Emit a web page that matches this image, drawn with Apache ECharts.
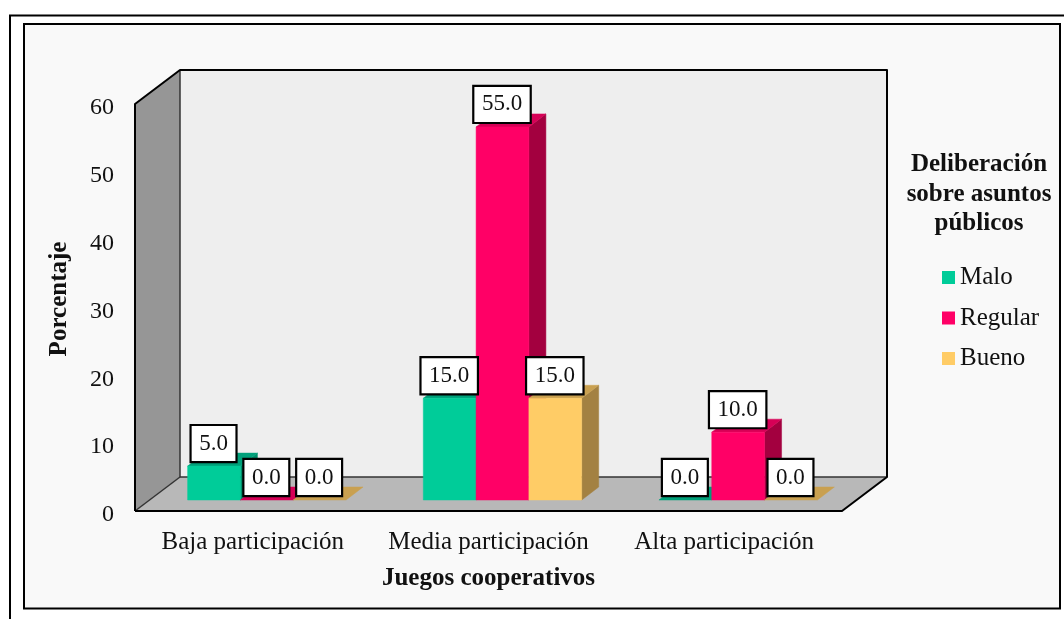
<!DOCTYPE html>
<html>
<head>
<meta charset="utf-8">
<style>html,body{margin:0;padding:0;background:#fff}#chart{width:1064px;height:619px}</style>
<script src="https://cdn.jsdelivr.net/npm/echarts@6/dist/echarts.min.js"></script>
</head>
<body>
<div id="chart"></div>
<script>
// Participation levels and percentages per rating
const categories = ['Baja participación', 'Media participación', 'Alta participación'];
const malo = [5.0, 15.0, 0.0];
const regular = [0.0, 55.0, 10.0];
const bueno = [0.0, 15.0, 0.0];
const yTicks = [0, 60, 10];
const seriesNames = ['Malo', 'Regular', 'Bueno'];

const FONT = '"Liberation Serif", "Times New Roman", serif';
const TEXT = '#111';

// Oblique projection of the box: wall depth and where bars sit within it
const WALL_DX = 45, WALL_DY = -34;
const BAR_DX = 14, BAR_DY = -11;
const CAP_DX = 17, CAP_DY = -13;
const BAR_W = 52.8;

const palette = [
  { front: '#00CC99', top: '#00A07A', side: '#008F6C' },
  { front: '#FF0066', top: '#D60056', side: '#A3003F' },
  { front: '#FFCC66', top: '#C9A050', side: '#A38142' }
];

function poly(points, fill, z2) {
  return { type: 'polygon', z2: z2 || 0, shape: { points }, style: { fill, stroke: fill, lineWidth: 0.5 } };
}

// Front, top and side faces of one bar, positioned through the chart's scales
function barRenderer(seriesIdx) {
  return function (params, api) {
    const cat = api.value(0), val = api.value(1);
    const c = palette[seriesIdx];
    const base = api.coord([cat, 0]);
    const top = api.coord([cat, val]);
    const x0 = base[0] + BAR_DX + (seriesIdx - 1.5) * BAR_W;
    const x1 = x0 + BAR_W;
    const yb = base[1] + BAR_DY, yt = top[1] + BAR_DY;
    const children = [];
    if (val > 0) {
      children.push(poly([[x1, yb], [x1 + CAP_DX, yb + CAP_DY], [x1 + CAP_DX, yt + CAP_DY], [x1, yt]], c.side));
    }
    children.push(poly([[x0, yt], [x1, yt], [x1 + CAP_DX, yt + CAP_DY], [x0 + CAP_DX, yt + CAP_DY]], c.top));
    if (val > 0) {
      children.push(poly([[x0, yb], [x1, yb], [x1, yt], [x0, yt]], c.front));
    }
    return { type: 'group', children };
  };
}

// White boxed value label above a bar's front face
function labelRenderer(seriesIdx) {
  return function (params, api) {
    const cat = api.value(0), val = api.value(1);
    const top = api.coord([cat, val]);
    const base = api.coord([cat, 0]);
    return {
      type: 'text',
      z2: 10,
      style: {
        x: base[0] + BAR_DX + (seriesIdx - 1) * BAR_W - 0.5,
        y: top[1] + BAR_DY - 22.5,
        text: val.toFixed(1),
        align: 'center',
        verticalAlign: 'middle',
        font: '23px ' + FONT,
        fill: TEXT,
        backgroundColor: '#fff',
        borderColor: '#000',
        borderWidth: 2.2,
        padding: [10, 7.5, 2, 7.5]
      }
    };
  };
}

// Back wall, side wall and floor of the box
function wallsRenderer(params) {
  const g = params.coordSys;
  const l = g.x, t = g.y, r = g.x + g.width, b = g.y + g.height;
  const d = (x, y) => [x + WALL_DX, y + WALL_DY];
  const edge = { stroke: '#000', lineWidth: 2, lineJoin: 'round' };
  const inner = { stroke: '#333', lineWidth: 1.5 };
  return {
    type: 'group',
    children: [
      { type: 'polygon', shape: { points: [d(l, t), d(r, t), d(r, b), d(l, b)] }, style: { fill: '#EEEEEE', stroke: null } },
      { type: 'polygon', shape: { points: [[l, t], d(l, t), d(l, b), [l, b]] }, style: { fill: '#969696', stroke: null } },
      { type: 'polygon', shape: { points: [[l, b], [r, b], d(r, b), d(l, b)] }, style: { fill: '#B8B8B8', stroke: null } },
      { type: 'polyline', shape: { points: [d(l, b), d(r, b)] }, style: Object.assign({ fill: null }, inner) },
      { type: 'polyline', shape: { points: [d(l, t), d(l, b)] }, style: Object.assign({ fill: null }, inner) },
      { type: 'polyline', shape: { points: [[l, b], d(l, b)] }, style: Object.assign({ fill: null }, inner) },
      { type: 'polyline', shape: { points: [[l, b], [l, t], d(l, t), d(r, t), d(r, b), [r, b], [l, b]] }, style: Object.assign({ fill: null }, edge) }
    ]
  };
}

const values = [malo, regular, bueno];
const barSeries = values.map((vals, i) => ({
  name: seriesNames[i],
  type: 'custom',
  coordinateSystem: 'cartesian2d',
  z: 3,
  itemStyle: { color: palette[i].front },
  renderItem: barRenderer(i),
  encode: { x: 0, y: 1 },
  data: vals.map((v, k) => [k, v])
}));
const labelSeries = values.map((vals, i) => ({
  type: 'custom',
  coordinateSystem: 'cartesian2d',
  z: 5,
  silent: true,
  renderItem: labelRenderer(i),
  encode: { x: 0, y: 1 },
  data: vals.map((v, k) => [k, v])
}));

const chart = echarts.init(document.getElementById('chart'), null, { renderer: 'canvas' });
chart.setOption({
  animation: false,
  backgroundColor: '#fff',
  graphic: [
    { type: 'rect', z: -10, silent: true, shape: { x: 10, y: 15.5, width: 1100, height: 700 }, style: { fill: '#fff', stroke: '#000', lineWidth: 2 } },
    { type: 'rect', z: -9, silent: true, shape: { x: 24, y: 24, width: 1036, height: 584.5 }, style: { fill: '#F9F9F9', stroke: '#000', lineWidth: 2 } }
  ],
  title: {
    text: 'Deliberación\nsobre asuntos\npúblicos',
    left: 979,
    top: 150,
    padding: 0,
    textAlign: 'center',
    textStyle: { fontFamily: FONT, fontWeight: 'bold', fontSize: 25, lineHeight: 29.5, color: TEXT }
  },
  legend: {
    orient: 'vertical',
    left: 942,
    top: 265,
    padding: 0,
    icon: 'rect',
    itemWidth: 13,
    itemHeight: 13,
    itemGap: 15.5,
    selectedMode: false,
    data: seriesNames,
    textStyle: { fontFamily: FONT, fontSize: 25, color: TEXT, padding: [0, 0, 0, 0], height: 24, lineHeight: 24 }
  },
  grid: { left: 135, top: 104, width: 707, height: 407, containLabel: false },
  xAxis: {
    type: 'category',
    data: categories,
    name: 'Juegos cooperativos',
    nameLocation: 'middle',
    nameGap: 55,
    nameTextStyle: { fontFamily: FONT, fontWeight: 'bold', fontSize: 25, color: TEXT },
    axisLine: { show: false },
    axisTick: { show: false },
    axisLabel: { margin: 19, interval: 0, fontFamily: FONT, fontSize: 25, color: TEXT }
  },
  yAxis: {
    type: 'value',
    min: yTicks[0],
    max: yTicks[1],
    interval: yTicks[2],
    name: 'Porcentaje',
    nameLocation: 'middle',
    nameRotate: 90,
    nameGap: 63,
    nameTextStyle: { fontFamily: FONT, fontWeight: 'bold', fontSize: 25, color: TEXT, padding: [0, 0, 0, 17] },
    axisLine: { show: false },
    axisTick: { show: false },
    splitLine: { show: false },
    axisLabel: { margin: 21, fontFamily: FONT, fontSize: 24, color: TEXT, verticalAlign: 'top', lineHeight: 8 }
  },
  series: [
    {
      type: 'custom',
      coordinateSystem: 'cartesian2d',
      z: 1,
      silent: true,
      renderItem: wallsRenderer,
      encode: { x: 0, y: 1 },
      data: [[0, 0]]
    },
    ...barSeries,
    ...labelSeries
  ]
});
</script>
</body>
</html>
